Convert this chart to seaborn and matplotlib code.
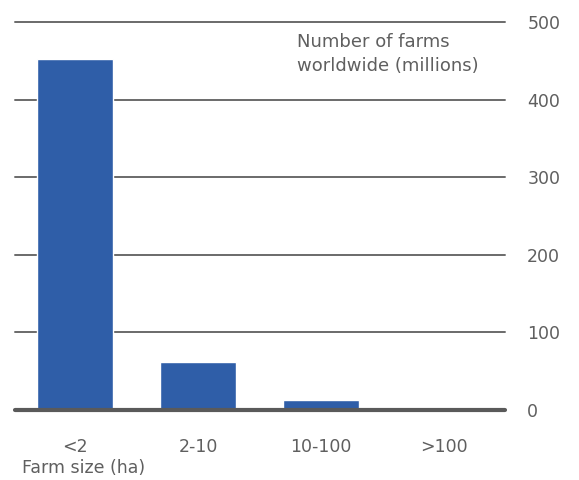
import matplotlib
matplotlib.use("Agg")
import matplotlib.pyplot as plt
import seaborn as sns
import pandas as pd

categories = ["<2", "2-10", "10-100", ">100"]
farms_millions = [452, 62, 13, 0.5]
y_ticks = [0, 100, 200, 300, 400, 500]

df = pd.DataFrame({"size": categories, "farms": farms_millions})

sns.set_theme(style="white")
plt.rcParams["font.family"] = ["DejaVu Sans"]
txt = "#5f5f5f"

fig = plt.figure(figsize=(5.79, 4.8), dpi=100)
ax = fig.add_axes([15/579, 70/480, 490/579, 388/480])

sns.barplot(data=df, x="size", y="farms", color="#2f5ea8", saturation=1,
            width=0.62, ax=ax, zorder=3)

ax.set_ylim(0, 500)
ax.set_xlim(-0.49, 3.5)
ax.set_yticks(y_ticks)
for v in y_ticks:
    if v == 0:
        ax.axhline(v, color="#5a5a5a", lw=3, zorder=4, clip_on=False)
    else:
        ax.axhline(v, color="#6a6a6a", lw=1.4, zorder=1, clip_on=False)

ax.yaxis.tick_right()
ax.tick_params(axis="y", length=0, pad=16, labelsize=12.5, labelcolor=txt)
ax.tick_params(axis="x", length=0, pad=20, labelsize=12.5, labelcolor=txt)
for lab in ax.get_yticklabels():
    lab.set_horizontalalignment("left")
for s in ax.spines.values():
    s.set_visible(False)
ax.set_xlabel("")
ax.set_ylabel("")

fig.text(297/579, 1 - 33/480, "Number of farms\nworldwide (millions)", fontsize=13,
         color=txt, ha="left", va="top", linespacing=1.4)
fig.text(22/579, 1 - 468/480, "Farm size (ha)", fontsize=12.5, color=txt,
         ha="left", va="center")

fig.savefig("out.png", dpi=100)
